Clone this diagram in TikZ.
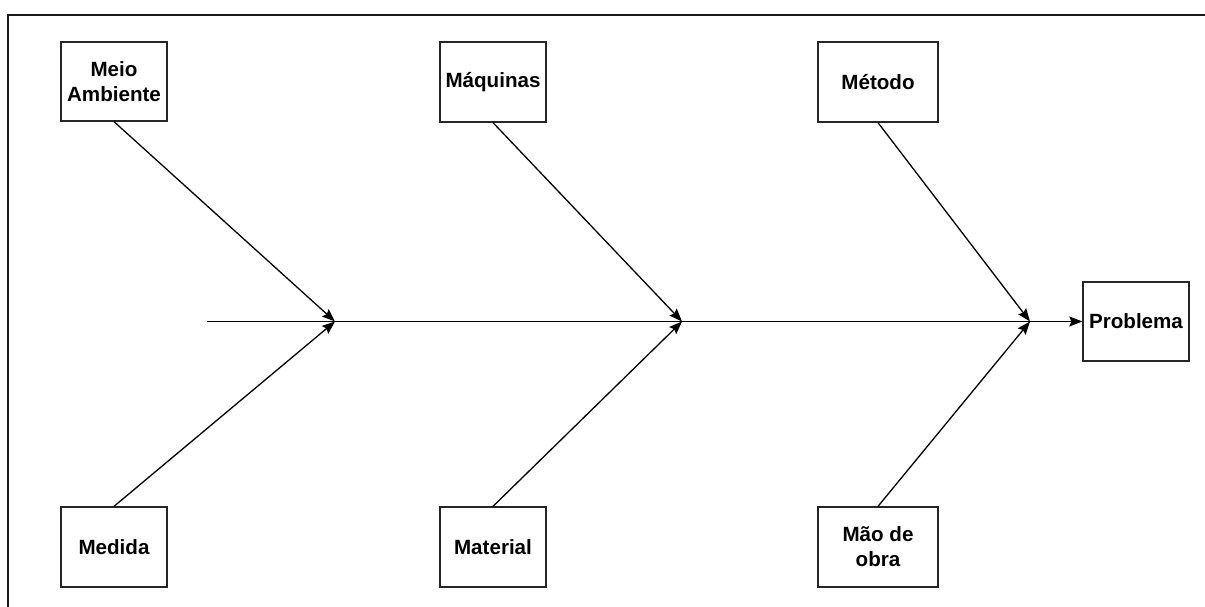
\documentclass[tikz,border=0pt]{standalone}
\usepackage{fontspec}
\setmainfont{Liberation Sans}
\usetikzlibrary{arrows.meta}
\begin{document}
\begin{tikzpicture}[x=1pt,y=-1pt,
  cause/.style={draw=black!85,line width=1.3pt,fill=white,inner sep=0pt,align=center,
    font=\fontsize{20.6}{25}\selectfont\bfseries},
  conn/.style={line width=1.3pt,-{Stealth[length=13pt,width=10pt,inset=2pt]}}]
\useasboundingbox (0,0) rectangle (1205,607);
\draw[line width=2pt,draw=black!90] (8,15) rectangle (1220,630);
% boxes
\node[cause,minimum width=106pt,minimum height=79pt] (meio) at (114,81.5) {Meio\\Ambiente};
\node[cause,minimum width=106pt,minimum height=80pt] (maq) at (493,82) {Máquinas};
\node[cause,minimum width=120pt,minimum height=80pt] (met) at (878,82) {Método};
\node[cause,minimum width=106pt,minimum height=80pt] (med) at (114,547) {Medida};
\node[cause,minimum width=106pt,minimum height=80pt] (mat) at (493,547) {Material};
\node[cause,minimum width=120pt,minimum height=80pt] (mao) at (878,547) {Mão de\\obra};
\node[cause,minimum width=106pt,minimum height=79pt] (prob) at (1136,321.5) {Problema};
% spine
\coordinate (start) at (207,321.5);
\coordinate (j1) at (335,321.5);
\coordinate (j2) at (682,321.5);
\coordinate (j3) at (1030,321.5);
\draw[conn] (start) -- (prob.west);
% bones
\draw[conn] (meio.south) -- (j1);
\draw[conn] (med.north) -- (j1);
\draw[conn] (maq.south) -- (j2);
\draw[conn] (mat.north) -- (j2);
\draw[conn] (met.south) -- (j3);
\draw[conn] (mao.north) -- (j3);
\end{tikzpicture}
\end{document}
